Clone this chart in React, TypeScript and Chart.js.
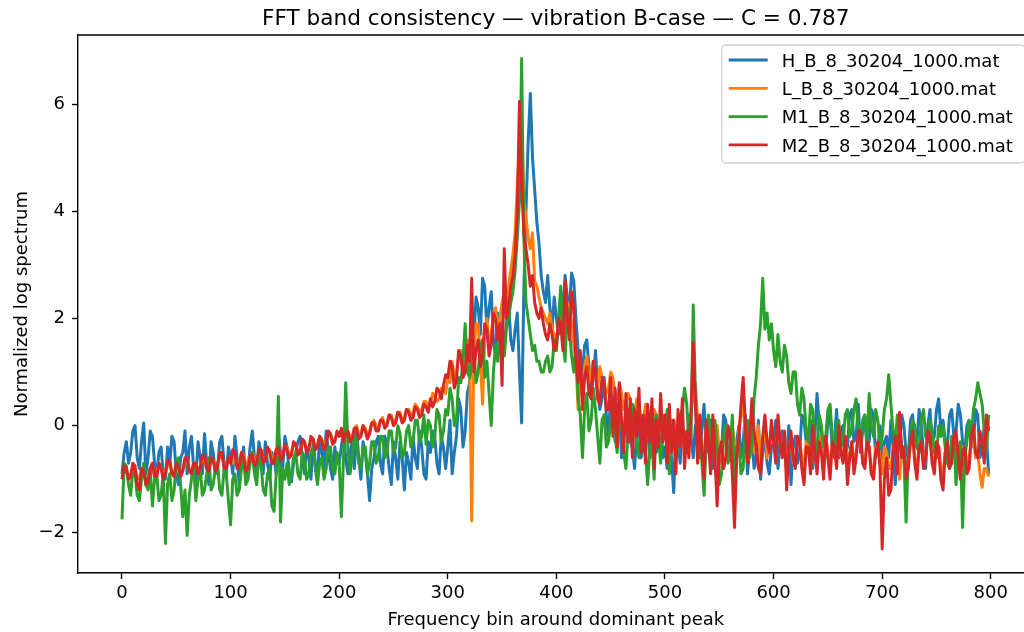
import React, { useEffect, useRef } from "react";
import { Chart, registerables } from "chart.js";

Chart.register(...registerables);

const TITLE = "FFT band consistency — vibration B-case — C = 0.787";
const X_LABEL = "Frequency bin around dominant peak";
const Y_LABEL = "Normalized log spectrum";

const X_TICKS = [0, 100, 200, 300, 400, 500, 600, 700, 800];
const Y_TICKS = [-2, 0, 2, 4, 6];

const SERIES_LABELS = [
  "H_B_8_30204_1000.mat",
  "L_B_8_30204_1000.mat",
  "M1_B_8_30204_1000.mat",
  "M2_B_8_30204_1000.mat",
];

const BINS = [
  0, 2, 4, 6, 8, 10, 12, 14, 16, 18, 20, 22, 24, 26, 28, 30, 32, 34, 36, 38, 40, 42, 44, 46, 48,
  50, 52, 54, 56, 58, 60, 62, 64, 66, 68, 70, 72, 74, 76, 78, 80, 82, 84, 86, 88, 90, 92, 94, 96, 98,
  100, 102, 104, 106, 108, 110, 112, 114, 116, 118, 120, 122, 124, 126, 128, 130, 132, 134, 136, 138, 140, 142, 144, 146, 148,
  150, 152, 154, 156, 158, 160, 162, 164, 166, 168, 170, 172, 174, 176, 178, 180, 182, 184, 186, 188, 190, 192, 194, 196, 198,
  200, 202, 204, 206, 208, 210, 212, 214, 216, 218, 220, 222, 224, 226, 228, 230, 232, 234, 236, 238, 240, 242, 244, 246, 248,
  250, 252, 254, 256, 258, 260, 262, 264, 266, 268, 270, 272, 274, 276, 278, 280, 282, 284, 286, 288, 290, 292, 294, 296, 298,
  300, 302, 304, 306, 308, 310, 312, 314, 316, 318, 320, 322, 324, 326, 328, 330, 332, 334, 336, 338, 340, 342, 344, 346, 348,
  350, 352, 354, 356, 358, 360, 362, 364, 366, 368, 370, 372, 374, 376, 378, 380, 382, 384, 386, 388, 390, 392, 394, 396, 398,
  400, 402, 404, 406, 408, 410, 412, 414, 416, 418, 420, 422, 424, 426, 428, 430, 432, 434, 436, 438, 440, 442, 444, 446, 448,
  450, 452, 454, 456, 458, 460, 462, 464, 466, 468, 470, 472, 474, 476, 478, 480, 482, 484, 486, 488, 490, 492, 494, 496, 498,
  500, 502, 504, 506, 508, 510, 512, 514, 516, 518, 520, 522, 524, 526, 528, 530, 532, 534, 536, 538, 540, 542, 544, 546, 548,
  550, 552, 554, 556, 558, 560, 562, 564, 566, 568, 570, 572, 574, 576, 578, 580, 582, 584, 586, 588, 590, 592, 594, 596, 598,
  600, 602, 604, 606, 608, 610, 612, 614, 616, 618, 620, 622, 624, 626, 628, 630, 632, 634, 636, 638, 640, 642, 644, 646, 648,
  650, 652, 654, 656, 658, 660, 662, 664, 666, 668, 670, 672, 674, 676, 678, 680, 682, 684, 686, 688, 690, 692, 694, 696, 698,
  700, 702, 704, 706, 708, 710, 712, 714, 716, 718, 720, 722, 724, 726, 728, 730, 732, 734, 736, 738, 740, 742, 744, 746, 748,
  750, 752, 754, 756, 758, 760, 762, 764, 766, 768, 770, 772, 774, 776, 778, 780, 782, 784, 786, 788, 790, 792, 794, 796, 798,
];

const H_SERIES = [
  -0.9, -0.5, -0.3, -0.7, -0.5, -0.1, 0.0, -0.6, -0.8, -0.3, 0.05, -0.9, -0.6, -0.1, -0.2, -0.7, -0.9, -0.5, -0.4, -0.9, -1.0, -0.4, -0.7, -0.2, -0.3,
  -0.9, -1.1, -0.6, -0.5, -0.1, -0.9, -0.4, -0.2, -0.8, -1.0, -0.3, -0.6, -0.9, -0.15, -0.7, -1.1, -0.3, -0.5, -0.9, -0.8, -0.3, -0.2, -0.7, -0.9, -0.4,
  -0.6, -0.9, -0.2, -0.6, -1.1, -0.7, -0.4, -1.0, -0.8, -0.4, -0.1, -0.6, -0.9, -0.3, -0.5, -0.9, -0.3, -0.7, -1.0, -0.5, -0.6, -0.9, -0.15, -0.5, -0.8,
  -0.2, -0.4, -0.9, -1.05, -0.7, -0.5, -0.3, -0.2, -0.6, -0.9, -0.4, -0.6, -1.0, -0.3, -0.7, -1.0, -0.2, -0.5, -0.8, -0.1, -0.5, -0.8, -1.0, -0.4, -0.7,
  -0.7, -0.4, -0.1, -0.6, -0.9, -0.5, -0.3, -0.8, -0.05, -0.6, -1.0, -0.3, -0.5, -0.9, -1.4, -0.8, -0.6, -0.3, -0.2, -0.7, -0.9, -0.2, -0.4, -0.8, -1.1,
  -0.3, -0.6, -1.0, -0.3, -0.6, -1.2, -0.5, -0.7, -1.0, -0.2, -0.6, -0.8, -0.1, -0.4, -0.9, -1.0, -0.3, -0.5, -0.1, -0.2, -0.7, -0.9, -0.2, -0.4, -0.8,
  -0.4, 0.1, -0.9, -0.5, -0.2, 0.5, 0.3, -0.4, -0.1, 0.6, 0.8, 1.2, 1.6, 2.4, 2.2, 1.7, 2.75, 2.6, 1.8, 2.2, 2.5, 1.6, 1.3, 2.1, 2.0,
  1.2, 1.5, 1.9, 2.3, 1.6, 1.4, 1.8, 2.1, 1.0, 0.05, 2.5, 4.0, 5.3, 6.2, 5.0, 4.4, 3.8, 3.4, 2.8, 2.5, 2.3, 2.8, 2.2, 1.8, 2.4,
  2.0, 1.7, 2.5, 2.1, 2.8, 2.4, 2.2, 2.85, 2.7, 2.0, 1.4, 0.8, 1.0, 1.5, 1.6, 1.1, 0.6, 0.9, 1.4, 0.7, 0.3, 0.5, 0.9, 0.2, -0.2,
  0.6, 0.5, -0.3, 0.1, 0.4, -0.6, -0.2, 0.2, 0.3, -0.3, -0.4, -0.8, -0.1, 0.0, -0.6, -0.4, 0.1, 0.3, -0.6, -0.2, 0.2, -0.5, -0.3, 0.1, -0.6,
  -0.4, -0.8, -0.1, -0.6, -1.25, -0.2, -0.3, -0.7, 0.1, -0.4, -0.5, 0.2, -0.2, -0.6, 0.0, -0.4, -0.6, 0.0, 0.4, -0.5, -0.3, 0.1, -0.8, -0.3, -0.1,
  -0.7, -0.5, 0.2, 0.1, -0.6, -0.4, -0.1, -0.7, -0.3, 0.0, -0.6, -0.3, 0.2, -0.9, -0.4, -0.2, -0.8, -0.6, 0.1, -1.0, -0.5, -0.2, -0.7, -0.9, -0.4,
  -0.3, 0.1, -0.8, -0.3, -0.1, -0.5, -0.6, 0.0, -1.1, -0.4, -0.2, -0.7, -0.5, 0.2, 0.1, -0.3, -0.4, 0.1, -0.8, -0.2, 0.6, 0.0, -0.1, -0.6, -0.5,
  0.1, 0.2, -0.4, -0.3, 0.3, -0.6, -0.1, 0.0, -0.5, -0.4, 0.2, 0.3, -0.3, -0.2, 0.4, -0.5, -0.1, 0.1, -0.4, -0.3, 0.3, 0.2, -0.6, -0.4, 0.0,
  -0.7, -0.3, -0.2, -0.6, 0.1, -0.4, -1.1, -0.2, -0.4, 0.2, 0.0, -0.5, -0.6, 0.1, 0.2, -0.4, -0.3, 0.3, 0.0, -0.5, -0.8, 0.0, 0.3, -0.3, -0.2,
  0.3, 0.5, -0.1, 0.1, -0.3, -0.4, 0.2, 0.3, -0.2, -0.1, 0.4, 0.2, -0.3, -0.5, 0.0, 0.1, -0.4, -0.3, 0.3, 0.2, -0.6, -0.4, 0.0, -0.2, -0.9,
];

const L_SERIES = [
  -0.95, -0.8, -0.85, -1.0, -0.9, -0.75, -0.8, -0.95, -1.0, -0.8, -0.85, -1.05, -0.95, -0.8, -0.75, -0.95, -0.9, -0.7, -0.8, -0.95, -0.85, -0.75, -0.7, -0.9, -0.9,
  -0.7, -0.75, -0.9, -0.8, -0.65, -0.65, -0.85, -0.85, -0.7, -0.7, -0.85, -0.75, -0.65, -0.6, -0.8, -0.8, -0.7, -0.65, -0.8, -0.7, -0.6, -0.55, -0.75, -0.75, -0.6,
  -0.65, -0.7, -0.55, -0.75, -0.7, -0.5, -0.55, -0.7, -0.7, -0.55, -0.5, -0.65, -0.65, -0.5, -0.45, -0.65, -0.6, -0.5, -0.45, -0.6, -0.6, -0.45, -0.4, -0.6, -0.55,
  -0.4, -0.4, -0.55, -0.5, -0.35, -0.35, -0.5, -0.45, -0.35, -0.3, -0.45, -0.4, -0.3, -0.25, -0.4, -0.35, -0.2, -0.25, -0.35, -0.3, -0.2, -0.15, -0.3, -0.25, -0.15,
  -0.2, -0.1, -0.25, -0.15, -0.1, -0.2, -0.2, -0.05, 0.0, -0.15, -0.15, 0.0, -0.05, -0.15, -0.1, 0.05, 0.1, 0.0, -0.05, 0.1, 0.15, 0.0, 0.05, 0.2, 0.2,
  0.05, 0.1, 0.25, 0.25, 0.1, 0.15, 0.3, 0.3, 0.2, 0.25, 0.4, 0.35, 0.25, 0.3, 0.45, 0.45, 0.35, 0.4, 0.6, 0.55, 0.45, 0.5, 0.7, 0.7, 0.6,
  0.9, 0.8, 1.2, 0.9, 1.0, 1.3, 1.4, 1.0, 1.1, 1.6, 1.5, -1.78, 1.3, 1.9, 1.9, 1.2, 0.4, 1.6, 2.0, 1.5, 1.7, 2.1, 2.2, 1.8, 2.0,
  2.3, 2.5, 2.2, 2.6, 2.9, 3.2, 3.6, 4.5, 5.2, 5.65, 4.2, 3.9, 3.5, 3.3, 3.6, 2.7, 2.6, 2.4, 2.2, 2.1, 2.0, 1.9, 2.1, 1.8, 1.7,
  1.6, 1.9, 2.0, 1.7, 1.8, 2.3, 2.2, 1.9, 1.5, 1.2, 0.3, 0.9, 0.6, 1.1, 1.3, 0.8, 1.0, 1.2, 0.9, 0.7, 1.1, 0.9, 0.8, 0.6, 0.7,
  1.0, 0.9, 0.6, 0.5, 0.8, 0.6, 0.3, 0.4, 0.6, 0.5, 0.2, 0.2, 0.5, 0.4, 0.1, 0.1, 0.4, 0.3, -0.1, 0.0, 0.3, 0.2, -0.2, -0.1, 0.2,
  0.0, -0.3, -0.2, 0.1, 0.1, -0.2, -0.3, 0.0, -0.1, -0.5, -0.4, 0.0, 0.2, 0.6, 0.8, 0.1, -0.2, -0.4, -0.5, 0.0, -0.1, -0.4, -0.6, -0.1, 0.0,
  -0.5, -0.7, -0.2, -0.2, -0.6, -0.5, 0.0, -0.3, -0.6, -0.1, 0.2, 0.4, -0.2, -0.5, -0.1, 0.1, -0.5, -0.3, 0.0, -0.7, -0.3, 0.0, -0.6, -0.4, -0.1,
  -0.3, -0.6, 0.0, -0.3, -0.5, -0.2, -0.9, -0.5, -0.2, -0.7, -0.6, -0.2, -0.3, -0.6, -0.8, -0.3, -0.4, -0.8, -0.1, -0.5, -0.7, -0.2, -0.4, -0.7, -0.2,
  -0.5, -0.8, -0.4, -0.3, -0.7, -0.1, -0.5, -0.6, -0.2, -0.9, -0.5, -0.3, -0.7, -0.5, -0.2, -0.2, -0.6, -0.7, -0.3, -0.4, -0.9, -0.8, -0.4, -0.3, -0.6,
  -0.9, -0.4, -0.5, -0.8, -0.8, -0.4, -0.3, -0.7, -1.0, -0.5, -0.4, -0.8, -0.7, -0.3, -0.2, -0.6, -0.8, -0.4, -0.4, -0.7, -0.5, -0.2, -0.3, -0.6, -0.7,
  -0.3, -0.4, -0.8, -0.9, -0.5, -0.3, -0.6, -0.6, -0.3, -0.2, -0.7, -0.8, -0.4, -0.4, -0.7, -0.6, -0.3, -0.3, -0.6, -0.5, -0.9, -1.15, -0.8, -0.8, -0.95,
];

const M1_SERIES = [
  -1.75, -0.7, -0.75, -1.1, -1.3, -0.8, -0.9, -1.3, -1.4, -1.0, -0.7, -1.1, -1.2, -0.8, -1.5, -1.0, -0.9, -1.4, -1.3, -0.9, -2.2, -1.1, -0.9, -1.4, -1.2,
  -0.7, -0.6, -1.1, -1.7, -1.2, -2.05, -1.3, -1.0, -0.7, -1.4, -1.0, -0.8, -1.3, -1.2, -0.9, -0.6, -1.2, -1.1, -0.8, -0.7, -1.2, -1.3, -0.8, -0.9, -1.4,
  -1.85, -1.0, -0.9, -1.3, -1.2, -0.8, -0.6, -1.1, -1.0, -0.7, -0.5, -0.9, -1.1, -0.6, -0.7, -1.2, -1.3, -0.9, -0.8, -1.5, -1.6, -0.9, 0.55, -1.8, -0.8,
  -1.0, -0.7, -1.1, -0.9, -0.6, -0.5, -0.9, -1.0, -0.5, -0.6, -1.0, -0.9, -0.5, -0.4, -0.8, -1.1, -0.7, -0.6, -1.0, -0.8, -0.4, -0.4, -0.8, -0.9, -0.5,
  -0.7, -1.7, -0.6, 0.8, -0.4, -0.9, -0.6, -0.2, -0.3, -0.7, -0.8, -0.4, -0.4, -0.9, -0.7, -0.3, -0.3, -0.7, -0.6, -0.2, -0.2, -0.6, -0.5, -0.1, -0.1,
  -0.5, -0.4, 0.0, -0.15, -0.6, -0.5, -0.1, 0.0, -0.4, -0.3, 0.1, 0.1, -0.3, -0.2, 0.2, -0.35, 0.1, 0.0, -0.4, -0.2, 0.3, 0.2, -0.3, -0.1, 0.3,
  0.2, 0.7, 0.5, 0.0, 0.1, 0.9, 0.8, 1.2, 1.9, 1.0, 0.9, 1.6, 1.4, 0.8, 1.0, 1.5, 1.6, 0.9, 1.2, 0.6, 0.0, 1.0, 1.5, 1.2, 1.8,
  1.4, 1.3, 1.8, 2.0, 2.3, 2.5, 2.9, 3.5, 4.2, 6.85, 3.5, 2.3, 2.0, 1.7, 1.4, 1.5, 1.2, 1.2, 1.0, 1.0, 1.2, 1.3, 1.0, 1.1, 1.6,
  1.4, 2.0, 2.6, 1.6, 1.2, 2.2, 1.8, 1.3, 1.0, 1.5, 0.5, 0.2, -0.6, 0.3, 0.6, -0.1, 0.1, 0.7, 0.3, -0.2, -0.7, 0.1, 0.2, -0.4, -0.3,
  0.1, 0.4, -0.2, -0.5, 0.2, 0.0, -0.5, -0.8, -0.1, -0.2, 0.4, 0.3, -0.3, -0.6, 0.0, -0.1, -0.5, -1.1, -0.4, -0.3, -1.0, 0.2, -0.2, -0.7, -0.1,
  -0.2, 0.3, -0.9, -0.3, 0.1, -0.6, -0.5, 0.2, 0.3, 0.7, 0.4, -0.3, -0.2, 2.25, 0.6, -0.5, 0.0, -0.7, -1.3, -0.2, 0.2, -0.4, -0.6, 0.1, -0.4,
  -1.1, -0.9, -0.2, 0.0, -0.7, -0.5, 0.2, -1.3, -0.4, -0.3, -0.9, -0.8, 0.0, 0.1, -0.6, -0.4, 0.5, 0.9, 1.5, 1.9, 2.75, 1.8, 2.1, 1.6, 1.9,
  1.4, 1.1, 1.7, 1.2, 1.0, 1.5, 1.3, 0.8, 0.6, 1.0, 1.0, 0.4, 0.2, 0.7, 0.5, -0.1, -0.3, 0.4, 0.3, -0.3, -0.5, 0.2, 0.0, -0.4, -0.2,
  0.3, 0.4, -0.2, -0.6, 0.0, 0.1, -0.4, -0.3, 0.2, 0.3, -0.2, -0.1, 0.3, 0.5, -0.1, -0.4, 0.1, 0.2, -0.3, 0.6, 0.0, -0.2, 0.3, 0.1, -0.4,
  -0.2, 0.3, 0.5, 0.95, 0.4, -0.1, -0.3, 0.2, 0.1, -0.4, -0.6, -1.8, -0.5, -0.2, 0.1, 0.0, -0.4, -0.5, 0.1, 0.3, -0.2, -0.3, 0.1, -0.1, -0.5,
  -0.6, 0.0, -0.2, 0.0, -0.4, -0.7, -0.8, -0.2, -0.2, -1.1, -0.5, -0.3, -1.9, -0.6, -0.3, 0.1, -0.2, 0.3, 0.5, 0.8, 0.6, 0.4, -0.1, -0.5, 0.2,
];

const M2_SERIES = [
  -1.0, -0.75, -0.8, -1.0, -0.95, -0.7, -0.75, -1.1, -1.2, -0.8, -0.85, -1.1, -1.05, -0.8, -0.7, -0.95, -0.95, -0.7, -0.8, -1.0, -0.9, -0.65, -0.65, -0.9, -0.95,
  -0.7, -0.75, -0.95, -0.85, -0.6, -0.6, -0.85, -0.9, -0.7, -0.7, -0.9, -0.8, -0.55, -0.55, -0.8, -0.85, -0.6, -0.65, -0.85, -0.75, -0.5, -0.5, -0.8, -0.8, -0.6,
  -0.7, -0.45, -0.5, -0.8, -0.75, -0.5, -0.6, -0.85, -0.8, -0.55, -0.55, -0.75, -0.7, -0.45, -0.45, -0.7, -0.65, -0.4, -0.5, -0.7, -0.7, -0.45, -0.4, -0.65, -0.6,
  -0.35, -0.45, -0.6, -0.55, -0.3, -0.35, -0.55, -0.5, -0.25, -0.3, -0.5, -0.45, -0.2, -0.25, -0.45, -0.4, -0.2, -0.3, -0.45, -0.35, -0.1, -0.15, -0.35, -0.3, -0.1,
  -0.2, -0.05, -0.3, -0.15, -0.1, -0.3, -0.25, -0.05, -0.05, -0.25, -0.2, 0.0, -0.1, -0.25, -0.15, 0.05, 0.05, -0.1, -0.1, 0.1, 0.1, -0.05, 0.0, 0.2, 0.15,
  0.0, 0.05, 0.25, 0.2, 0.05, 0.1, 0.3, 0.25, 0.1, 0.15, 0.35, 0.3, 0.15, 0.2, 0.4, 0.35, 0.25, 0.5, 0.35, 0.45, 0.7, 0.65, 0.5, 0.75, 0.95,
  0.9, 1.2, 1.1, 0.7, 0.85, 1.4, 1.3, 0.9, 1.0, 1.5, 1.2, 2.75, 1.0, 1.4, 1.6, 1.1, 1.3, 1.9, 1.8, 1.3, 1.5, 2.1, 2.0, 1.6, 1.9,
  0.75, 3.3, 2.0, 2.2, 2.6, 2.8, 3.2, 4.0, 6.05, 4.5, 3.6, 3.3, 3.0, 2.6, 2.8, 2.3, 2.1, 2.0, 2.2, 1.9, 1.7, 1.6, 1.9, 1.7, 1.4,
  1.5, 2.0, 1.9, 1.4, 2.7, 2.0, 1.6, 2.5, 2.2, 1.2, 0.8, 1.4, 0.3, 0.9, 1.1, 0.6, 0.5, 1.2, 1.0, 0.5, 0.4, 0.9, 0.8, 0.3, 0.3,
  0.9, -0.2, 0.7, -0.4, 0.8, 0.1, -0.5, 0.6, -0.3, 0.5, -0.6, 0.3, -0.2, 0.7, -0.5, 0.2, -0.7, 0.4, -0.3, 0.5, -0.8, 0.1, -0.4, 0.6, -0.3,
  0.2, -0.7, 0.4, -0.5, 0.1, -0.9, 0.3, -0.4, 0.5, -0.8, -0.1, -0.6, 0.3, 1.55, 0.4, -0.7, 0.2, -0.5, -1.0, 0.1, -0.3, -0.9, 0.2, -0.6, -1.5,
  -0.5, -0.3, -0.8, -0.6, 0.0, -0.2, -0.9, -1.9, -0.6, -0.2, 0.4, 0.9, 0.0, -0.7, -0.2, 0.5, -0.1, -0.4, -0.8, -0.9, -0.2, 0.2, -0.3, -0.5, 0.1,
  -0.3, -0.7, 0.2, -0.3, -0.6, -0.1, -1.2, -0.5, -0.1, -0.6, -0.8, -0.2, -0.3, -0.8, -1.1, -0.4, -0.4, -0.9, 0.0, -0.5, -0.9, -0.3, -0.5, -1.0, -0.2,
  -0.6, -1.0, -0.3, -0.4, -0.8, 0.0, -0.5, -0.7, -0.2, -1.1, -0.6, -0.3, -0.9, -0.6, -0.1, -0.1, -0.7, -0.8, -0.3, -0.4, -0.9, -1.0, -0.5, -0.3, -0.8,
  -2.3, -1.0, -0.6, -1.3, -1.2, -0.5, -0.2, -0.9, 0.25, -0.6, -0.4, -1.0, -0.8, -0.3, -0.1, -0.7, -1.0, -0.4, -0.3, -0.8, -0.6, -0.1, -0.2, -0.7, -0.9,
  -0.3, -0.4, -1.0, -1.2, -0.5, -0.3, -0.8, -0.7, -0.2, -0.1, -0.6, -1.0, -0.5, -0.4, -0.9, -0.8, -0.2, 0.0, -0.5, -0.6, -0.1, -0.3, -0.7, 0.2, -0.1,
];

const SERIES_VALUES = [H_SERIES, L_SERIES, M1_SERIES, M2_SERIES];
const SERIES_COLORS = ["#1f77b4", "#ff7f0e", "#2ca02c", "#d62728"];

const FONT = "'DejaVu Sans', 'Liberation Sans', sans-serif";

const fmt = (v: number) => (v < 0 ? "\u2212" + Math.abs(v) : String(v));

const framePlugin = {
  id: "mplFrame",
  afterDraw(chart: any) {
    const { ctx, chartArea: a } = chart;
    ctx.save();
    ctx.strokeStyle = "#000";
    ctx.lineWidth = 1.4;
    ctx.beginPath();
    ctx.moveTo(a.left, a.top);
    ctx.lineTo(a.right, a.top);
    ctx.lineTo(a.right, a.bottom);
    ctx.stroke();

    ctx.fillStyle = "#000";
    ctx.font = `21.6px ${FONT}`;
    ctx.textAlign = "center";
    ctx.textBaseline = "alphabetic";
    ctx.fillText(TITLE, (a.left + a.right) / 2, a.top - 10);

    const boxRight = a.right - 9;
    const boxLeft = boxRight - 303;
    const boxTop = a.top + 10;
    const boxH = 118;
    ctx.beginPath();
    if ((ctx as any).roundRect) {
      (ctx as any).roundRect(boxLeft, boxTop, boxRight - boxLeft, boxH, 4);
    } else {
      ctx.rect(boxLeft, boxTop, boxRight - boxLeft, boxH);
    }
    ctx.fillStyle = "rgba(255,255,255,0.8)";
    ctx.fill();
    ctx.strokeStyle = "rgba(204,204,204,0.9)";
    ctx.lineWidth = 1.3;
    ctx.stroke();

    ctx.font = `18px ${FONT}`;
    ctx.textAlign = "left";
    ctx.textBaseline = "alphabetic";
    chart.data.datasets.forEach((ds: any, i: number) => {
      const rowY = boxTop + 15 + i * 28.3;
      ctx.strokeStyle = ds.borderColor;
      ctx.lineWidth = 2.8;
      ctx.lineCap = "butt";
      ctx.beginPath();
      ctx.moveTo(boxLeft + 7, rowY);
      ctx.lineTo(boxLeft + 46, rowY);
      ctx.stroke();
      ctx.fillStyle = "#000";
      ctx.fillText(ds.label, boxLeft + 60, rowY + 6.6);
    });
    ctx.restore();
  },
};

export default function App() {
  const ref = useRef<HTMLCanvasElement | null>(null);

  useEffect(() => {
    if (!ref.current) return;
    const datasets = SERIES_LABELS.map((label, s) => ({
      label,
      data: BINS.map((x, i) => ({ x, y: SERIES_VALUES[s][i] })),
      borderColor: SERIES_COLORS[s],
      backgroundColor: SERIES_COLORS[s],
      borderWidth: 3,
      pointRadius: 0,
      tension: 0,
      fill: false,
      borderJoinStyle: "round" as const,
      order: SERIES_LABELS.length - s,
    }));

    const axisGrid = {
      display: true,
      drawOnChartArea: false,
      drawTicks: true,
      tickLength: 6,
      tickWidth: 1.4,
      tickColor: "#000",
    };

    const chart = new Chart(ref.current, {
      type: "line",
      data: { datasets },
      options: {
        animation: false,
        responsive: false,
        events: [],
        layout: { padding: { top: 35, right: 6.3, left: 0, bottom: 0 } },
        plugins: {
          legend: { display: false },
          title: { display: false },
          tooltip: { enabled: false },
        },
        scales: {
          x: {
            type: "linear",
            min: -40.5,
            max: 839.5,
            afterBuildTicks: (s: any) => {
              s.ticks = X_TICKS.map((v) => ({ value: v }));
            },
            afterFit: (s: any) => {
              s.height = 59;
            },
            grid: axisGrid,
            border: { display: true, color: "#000", width: 1.4 },
            ticks: {
              color: "#000",
              font: { family: FONT, size: 18 },
              padding: 4,
              maxRotation: 0,
              autoSkip: false,
              callback: (v: any) => fmt(Number(v)),
            },
            title: {
              display: true,
              text: X_LABEL,
              color: "#000",
              font: { family: FONT, size: 18 },
              padding: { top: 0, bottom: 1 },
            },
          },
          y: {
            type: "linear",
            min: -2.75,
            max: 7.29,
            afterBuildTicks: (s: any) => {
              s.ticks = Y_TICKS.map((v) => ({ value: v }));
            },
            afterFit: (s: any) => {
              s.width = 78;
            },
            grid: axisGrid,
            border: { display: true, color: "#000", width: 1.4 },
            ticks: {
              color: "#000",
              font: { family: FONT, size: 18 },
              padding: 7,
              autoSkip: false,
              callback: (v: any) => fmt(Number(v)),
            },
            title: {
              display: true,
              text: Y_LABEL,
              color: "#000",
              font: { family: FONT, size: 18 },
              padding: { top: 12, bottom: 0 },
            },
          },
        },
      },
      plugins: [framePlugin],
    });
    return () => chart.destroy();
  }, []);

  return (
    <div
      style={{
        position: "absolute",
        left: 0,
        top: 0,
        width: 1024,
        height: 632,
        overflow: "hidden",
        background: "#fff",
      }}
    >
      <canvas ref={ref} width={1040} height={632} style={{ display: "block", width: 1040, height: 632 }} />
    </div>
  );
}
